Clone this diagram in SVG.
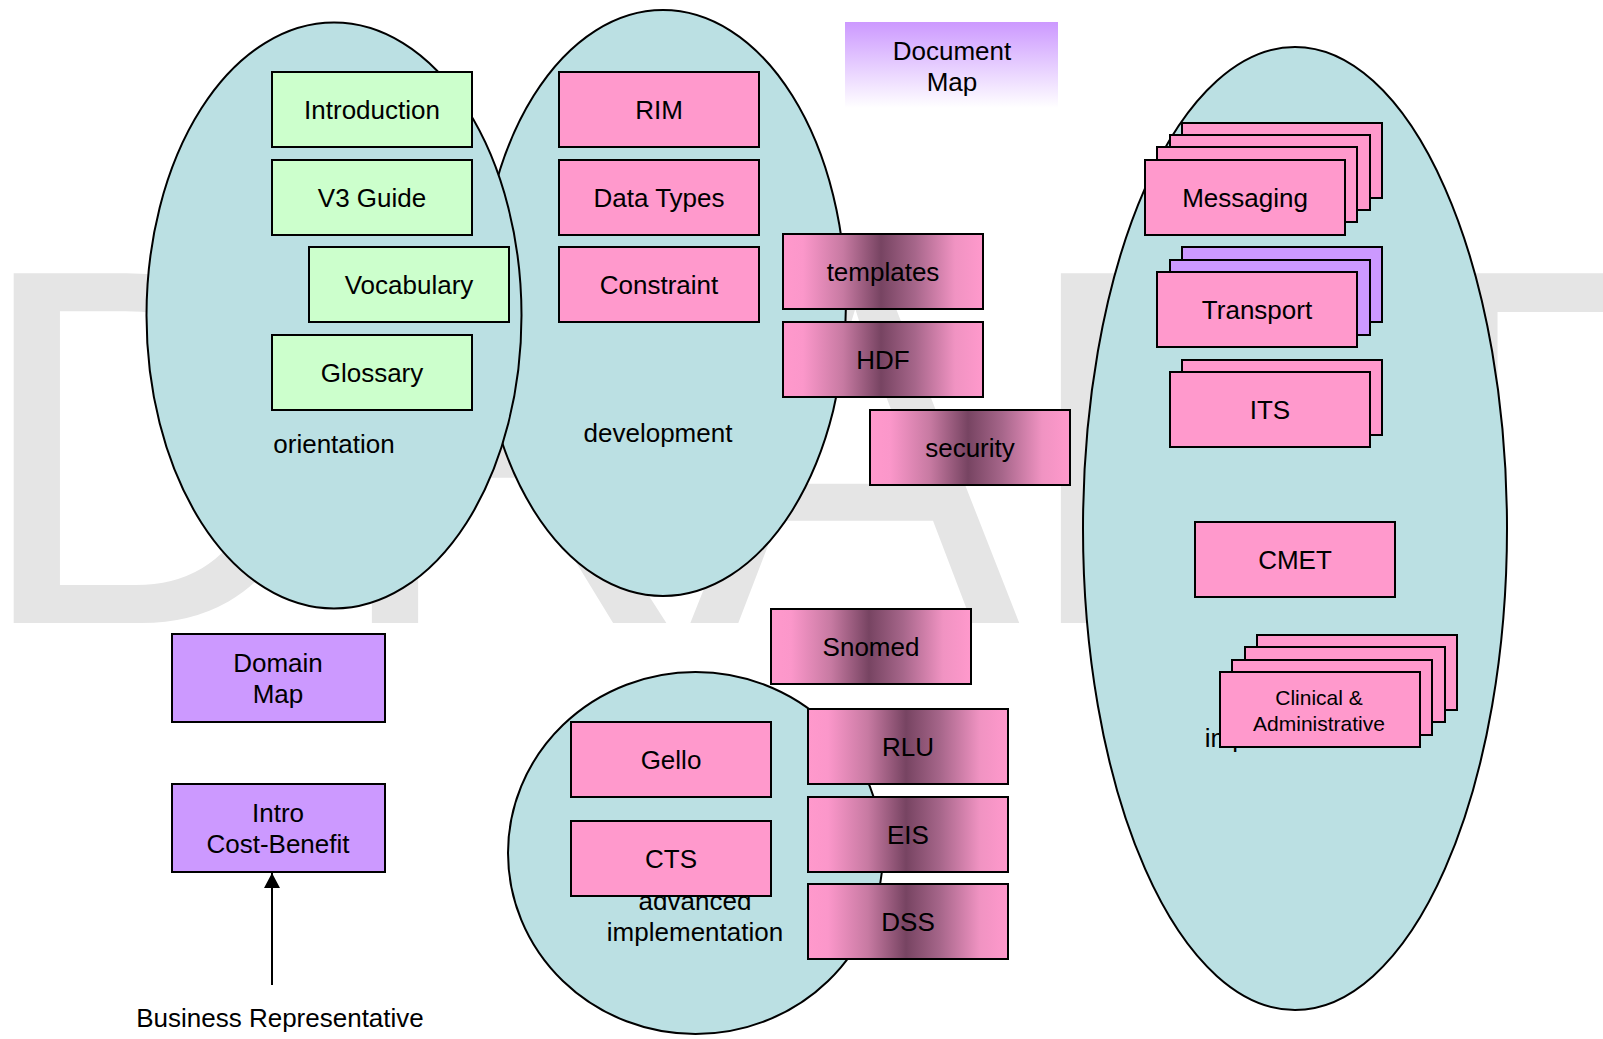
<svg xmlns="http://www.w3.org/2000/svg" width="1603" height="1039" viewBox="0 0 1603 1039">
<defs>
<linearGradient id="metal" x1="0" y1="0" x2="1" y2="0">
<stop offset="0" stop-color="#ff99cc"/>
<stop offset="0.1" stop-color="#fb97ca"/>
<stop offset="0.3" stop-color="#c77aa2"/>
<stop offset="0.49" stop-color="#774462"/>
<stop offset="0.66" stop-color="#a6668a"/>
<stop offset="0.86" stop-color="#f093c2"/>
<stop offset="1" stop-color="#ff99cc"/>
</linearGradient>
<linearGradient id="docmap" x1="0" y1="0" x2="0" y2="1">
<stop offset="0" stop-color="#cc99ff"/>
<stop offset="1" stop-color="#ffffff"/>
</linearGradient>
<marker id="arr" markerWidth="16" markerHeight="16" refX="15" refY="8" orient="auto" markerUnits="userSpaceOnUse">
<path d="M0,0 L15,8 L0,16 Z" fill="#000"/>
</marker>
</defs>
<style>
text{font-family:"Liberation Sans",Arial,Helvetica,sans-serif;fill:#000}
.lbl{font-size:26px;text-anchor:middle}
.sm{font-size:21px;text-anchor:middle}
.ell{fill:#bbe0e3;stroke:#000;stroke-width:2}
.b{stroke:#000;stroke-width:2}
.g{fill:#ccffcc}
.p{fill:#ff99cc}
.v{fill:#cc99ff}
.m{fill:url(#metal)}
.wm{font-size:496px;fill:#e5e5e5}
</style>
<rect width="1603" height="1039" fill="#ffffff"/>
<g id="watermark"><text class="wm" x="0" y="0" transform="translate(-27,623) scale(1,1.025)">DRAFT</text></g>

<g id="development">
<ellipse class="ell" cx="663" cy="303" rx="183" ry="293"/>
<text class="lbl" x="658" y="442">development</text>
</g>
<g id="orientation">
<ellipse class="ell" cx="334" cy="315.5" rx="187.5" ry="293"/>
<text class="lbl" x="334" y="453">orientation</text>
</g>
<g id="implementation">
<ellipse class="ell" cx="1295" cy="528.5" rx="212" ry="481.5"/>
<text class="lbl" x="1293" y="747">implementation</text>
</g>
<g id="advanced-implementation">
<ellipse class="ell" cx="695.5" cy="853" rx="187.5" ry="181"/>
<text class="lbl" x="695" y="910">advanced</text>
<text class="lbl" x="695" y="941">implementation</text>
</g>

<g id="introduction"><rect class="b g" x="272" y="72" width="200" height="75"/><text class="lbl" x="372" y="119">Introduction</text></g>
<g id="v3guide"><rect class="b g" x="272" y="160" width="200" height="75"/><text class="lbl" x="372" y="207">V3 Guide</text></g>
<g id="vocabulary"><rect class="b g" x="309" y="247" width="200" height="75"/><text class="lbl" x="409" y="294">Vocabulary</text></g>
<g id="glossary"><rect class="b g" x="272" y="335" width="200" height="75"/><text class="lbl" x="372" y="382">Glossary</text></g>

<g id="rim"><rect class="b p" x="559" y="72" width="200" height="75"/><text class="lbl" x="659" y="119">RIM</text></g>
<g id="datatypes"><rect class="b p" x="559" y="160" width="200" height="75"/><text class="lbl" x="659" y="207">Data Types</text></g>
<g id="constraint"><rect class="b p" x="559" y="247" width="200" height="75"/><text class="lbl" x="659" y="294">Constraint</text></g>

<g id="templates"><rect class="b m" x="783" y="234" width="200" height="75"/><text class="lbl" x="883" y="281">templates</text></g>
<g id="hdf"><rect class="b m" x="783" y="322" width="200" height="75"/><text class="lbl" x="883" y="369">HDF</text></g>
<g id="security"><rect class="b m" x="870" y="410" width="200" height="75"/><text class="lbl" x="970" y="457">security</text></g>

<g id="documentmap"><rect x="845" y="22" width="213" height="86" fill="url(#docmap)"/><text class="lbl" x="952" y="60">Document</text><text class="lbl" x="952" y="91">Map</text></g>

<g id="messaging">
<rect class="b p" x="1182" y="123" width="200" height="75"/>
<rect class="b p" x="1170" y="135" width="200" height="75"/>
<rect class="b p" x="1157" y="147" width="200" height="75"/>
<rect class="b p" x="1145" y="160" width="200" height="75"/>
<text class="lbl" x="1245" y="207">Messaging</text>
</g>
<g id="transport">
<rect class="b v" x="1182" y="247" width="200" height="75"/>
<rect class="b v" x="1170" y="260" width="200" height="75"/>
<rect class="b p" x="1157" y="272" width="200" height="75"/>
<text class="lbl" x="1257" y="319">Transport</text>
</g>
<g id="its">
<rect class="b p" x="1182" y="360" width="200" height="75"/>
<rect class="b p" x="1170" y="372" width="200" height="75"/>
<text class="lbl" x="1270" y="419">ITS</text>
</g>
<g id="cmet"><rect class="b p" x="1195" y="522" width="200" height="75"/><text class="lbl" x="1295" y="569">CMET</text></g>
<g id="clinical">
<rect class="b p" x="1257" y="635" width="200" height="75"/>
<rect class="b p" x="1245" y="647" width="200" height="75"/>
<rect class="b p" x="1232" y="660" width="200" height="75"/>
<rect class="b p" x="1220" y="672" width="200" height="75"/>
<text class="sm" x="1319" y="705">Clinical &amp;</text>
<text class="sm" x="1319" y="731">Administrative</text>
</g>

<g id="snomed"><rect class="b m" x="771" y="609" width="200" height="75"/><text class="lbl" x="871" y="656">Snomed</text></g>
<g id="gello"><rect class="b p" x="571" y="722" width="200" height="75"/><text class="lbl" x="671" y="769">Gello</text></g>
<g id="cts"><rect class="b p" x="571" y="821" width="200" height="75"/><text class="lbl" x="671" y="868">CTS</text></g>
<g id="rlu"><rect class="b m" x="808" y="709" width="200" height="75"/><text class="lbl" x="908" y="756">RLU</text></g>
<g id="eis"><rect class="b m" x="808" y="797" width="200" height="75"/><text class="lbl" x="908" y="844">EIS</text></g>
<g id="dss"><rect class="b m" x="808" y="884" width="200" height="75"/><text class="lbl" x="908" y="931">DSS</text></g>

<g id="domainmap"><rect class="b v" x="172" y="634" width="213" height="88"/><text class="lbl" x="278" y="672">Domain</text><text class="lbl" x="278" y="703">Map</text></g>
<g id="introcost"><rect class="b v" x="172" y="784" width="213" height="88"/><text class="lbl" x="278" y="822">Intro</text><text class="lbl" x="278" y="853">Cost-Benefit</text></g>
<g id="business-rep"><text class="lbl" x="280" y="1027">Business Representative</text></g>

<g id="connectors">
<line x1="272" y1="985" x2="272" y2="873" stroke="#000" stroke-width="2" marker-end="url(#arr)"/>
</g>
</svg>
